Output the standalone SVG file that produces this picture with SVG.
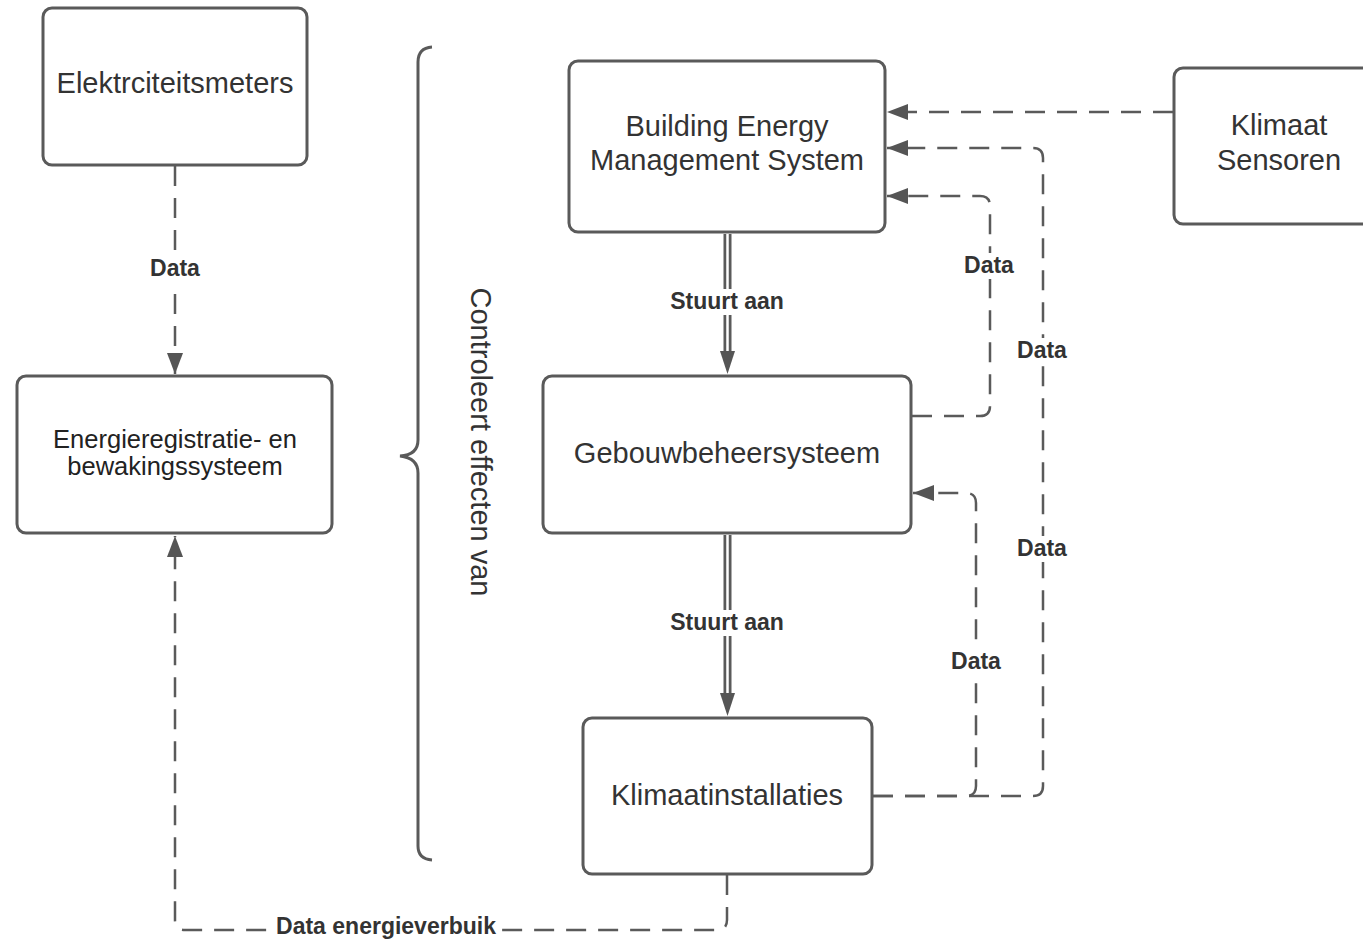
<svg xmlns="http://www.w3.org/2000/svg" width="1363" height="940" viewBox="0 0 1363 940">
<defs>
<style>
.box{fill:#ffffff;stroke:#5a5a5a;stroke-width:3}
.t{font-family:"Liberation Sans",Arial,sans-serif;font-size:29px;fill:#333333;text-anchor:middle}
.t2{font-family:"Liberation Sans",Arial,sans-serif;font-size:25.5px;fill:#222222;text-anchor:middle}
.lbl{font-family:"Liberation Sans",Arial,sans-serif;font-size:23px;font-weight:bold;fill:#333333;text-anchor:middle}
.dash{fill:none;stroke:#5a5a5a;stroke-width:2.5;stroke-dasharray:20 12}
.dbl-o{fill:none;stroke:#5a5a5a;stroke-width:8}
.dbl-i{fill:none;stroke:#ffffff;stroke-width:2.5}
.bg{fill:#ffffff}
.ah{fill:#555555}
</style>
<marker id="arr" markerUnits="userSpaceOnUse" markerWidth="22" markerHeight="16" refX="21" refY="8" orient="auto" viewBox="0 0 22 16">
<path d="M0,0 L21,8 L0,16 z" fill="#555555"/>
</marker>
</defs>
<rect width="1363" height="940" fill="#ffffff"/>

<g id="connectors">
<path class="dash" d="M175,166 L175,374" marker-end="url(#arr)"/>
<path class="dash" d="M727,875 L727,920 Q727,930 717,930 L185,930 Q175,930 175,920 L175,536" marker-end="url(#arr)"/>
<path class="dash" d="M1173,112 L887,112" marker-end="url(#arr)"/>
<path class="dash" d="M873,796 L1033,796 Q1043,796 1043,786 L1043,158 Q1043,148 1033,148 L887,148" marker-end="url(#arr)"/>
<path class="dash" d="M912,416 L980,416 Q990,416 990,406 L990,206 Q990,196 980,196 L887,196" marker-end="url(#arr)"/>
<path class="dash" d="M873,796 L966,796 Q976,796 976,786 L976,503 Q976,493 966,493 L913,493" marker-end="url(#arr)"/>

<path class="dbl-o" d="M727.5,234 L727.5,353"/>
<path class="dbl-i" d="M727.5,234 L727.5,353"/>
<polygon class="ah" points="720,351 735,351 727.5,374"/>
<path class="dbl-o" d="M727.5,535 L727.5,695"/>
<path class="dbl-i" d="M727.5,535 L727.5,695"/>
<polygon class="ah" points="720,693 735,693 727.5,716"/>

<rect class="bg" x="145" y="256" width="60" height="26"/>
<text class="lbl" x="175" y="276">Data</text>
<rect class="bg" x="664" y="289" width="127" height="26"/>
<text class="lbl" x="727" y="309">Stuurt aan</text>
<rect class="bg" x="664" y="610" width="127" height="26"/>
<text class="lbl" x="727" y="630">Stuurt aan</text>
<rect class="bg" x="960" y="253" width="60" height="26"/>
<text class="lbl" x="989" y="273">Data</text>
<rect class="bg" x="1013" y="338" width="60" height="26"/>
<text class="lbl" x="1042" y="358">Data</text>
<rect class="bg" x="1013" y="536" width="60" height="26"/>
<text class="lbl" x="1042" y="556">Data</text>
<rect class="bg" x="947" y="649" width="60" height="26"/>
<text class="lbl" x="976" y="669">Data</text>
<rect class="bg" x="272" y="914" width="228" height="26"/>
<text class="lbl" x="386" y="934">Data energieverbuik</text>
</g>

<g id="brace">
<path d="M432,47 Q418,48 418,62 L418,440 Q418,455 400,456 Q418,458 418,473 L418,846 Q418,859 432,860" fill="none" stroke="#5a5a5a" stroke-width="3"/>
<text class="t" x="0" y="0" transform="translate(481,442) rotate(90)" dominant-baseline="central">Controleert effecten van</text>
</g>

<g id="elektrciteitsmeters">
<rect class="box" x="43" y="8" width="264" height="157" rx="9"/>
<text class="t" x="175" y="93">Elektrciteitsmeters</text>
</g>

<g id="energieregistratie">
<rect class="box" x="17" y="376" width="315" height="157" rx="9"/>
<text class="t2" x="175" y="448">Energieregistratie- en</text>
<text class="t2" x="175" y="475">bewakingssysteem</text>
</g>

<g id="bems">
<rect class="box" x="569" y="61" width="316" height="171" rx="9"/>
<text class="t" x="727" y="136">Building Energy</text>
<text class="t" x="727" y="170">Management System</text>
</g>

<g id="gebouwbeheersysteem">
<rect class="box" x="543" y="376" width="368" height="157" rx="9"/>
<text class="t" x="727" y="463">Gebouwbeheersysteem</text>
</g>

<g id="klimaatinstallaties">
<rect class="box" x="583" y="718" width="289" height="156" rx="9"/>
<text class="t" x="727" y="805">Klimaatinstallaties</text>
</g>

<g id="klimaat-sensoren">
<rect class="box" x="1174" y="68" width="210" height="156" rx="9"/>
<text class="t" x="1279" y="135">Klimaat</text>
<text class="t" x="1279" y="170">Sensoren</text>
</g>
</svg>
